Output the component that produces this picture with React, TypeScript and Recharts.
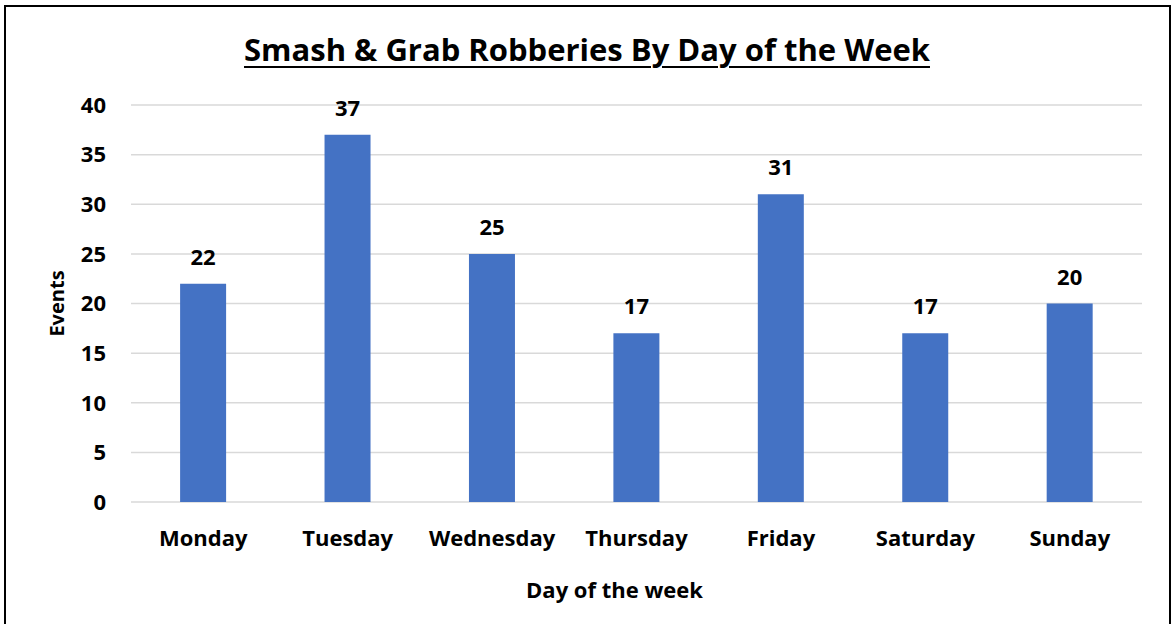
import { Bar, BarChart, CartesianGrid, LabelList, XAxis, YAxis } from 'recharts';

const days = ['Monday', 'Tuesday', 'Wednesday', 'Thursday', 'Friday', 'Saturday', 'Sunday'];
const events = [22, 37, 25, 17, 31, 17, 20];
const yTicks = [0, 5, 10, 15, 20, 25, 30, 35, 40];

const BAR_COLOR = '#4472C4';
const GRID_COLOR = '#d9d9d9';
const FONT = '"Open Sans", Calibri, sans-serif';

const data = days.map((day, i) => ({ day, events: events[i] }));

export default function App() {
  return (
    <div
      style={{
        position: 'absolute',
        left: 0,
        top: 0,
        width: 1174,
        height: 624,
        overflow: 'hidden',
        background: 'white',
        fontFamily: FONT,
      }}
    >
      <div
        style={{
          position: 'absolute',
          left: 4,
          top: 5,
          width: 1163,
          height: 700,
          border: '2px solid #000',
        }}
      />
      <div
        style={{
          position: 'absolute',
          left: 0,
          width: 1174,
          top: 30,
          textAlign: 'center',
          fontSize: 31,
          fontWeight: 700,
          textDecoration: 'underline',
          textDecorationThickness: 2,
          textUnderlineOffset: 5,
          color: '#000',
          lineHeight: '38px',
        }}
      >
        Smash &amp; Grab Robberies By Day of the Week
      </div>
      <BarChart
        width={1174}
        height={624}
        data={data}
        margin={{ top: 105, right: 32, bottom: 92, left: 71 }}
        barCategoryGap="34%"
        style={{ position: 'absolute', left: 0, top: 0 }}
      >
        <CartesianGrid stroke={GRID_COLOR} strokeWidth={1.5} vertical={false} />
        <XAxis
          dataKey="day"
          axisLine={false}
          tickLine={false}
          tickMargin={22}
          tick={{ fontSize: 22, fontWeight: 700, fill: '#000', fontFamily: FONT }}
          label={{
            value: 'Day of the week',
            position: 'insideBottom',
            offset: -66,
            dx: -22,
            style: { fontSize: 22, fontWeight: 700, fill: '#000', fontFamily: FONT },
          }}
        />
        <YAxis
          domain={[0, 40]}
          ticks={yTicks}
          width={60}
          axisLine={false}
          tickLine={false}
          tickSize={0}
          tickMargin={25}
          tick={{ fontSize: 22, fontWeight: 700, fill: '#000', fontFamily: FONT }}
          label={{
            value: 'Events',
            angle: -90,
            position: 'insideLeft',
            dx: -19,
            style: { fontSize: 20, fontWeight: 700, fill: '#000', fontFamily: FONT, textAnchor: 'middle' },
          }}
        />
        <Bar dataKey="events" fill={BAR_COLOR} isAnimationActive={false}>
          <LabelList
            dataKey="events"
            position="top"
            offset={19}
            style={{ fontSize: 22, fontWeight: 700, fill: '#000', fontFamily: FONT }}
          />
        </Bar>
      </BarChart>
    </div>
  );
}
